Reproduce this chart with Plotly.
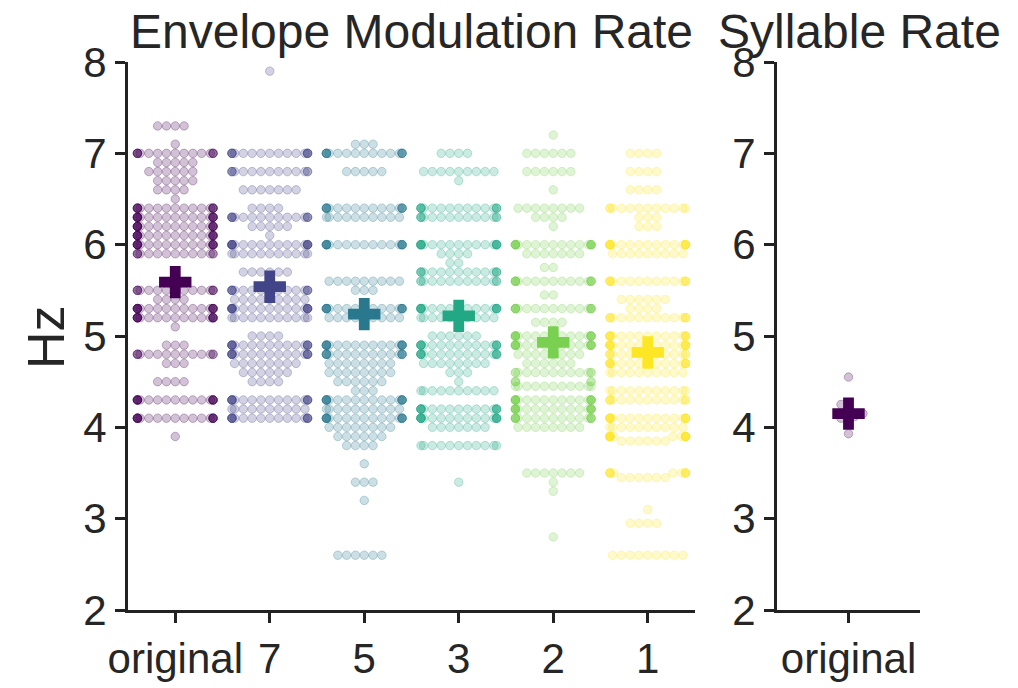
import numpy as np
import plotly.graph_objects as go

# ---------------- data ----------------
categories = ["original", "7", "5", "3", "2", "1"]
colors = ["#440154", "#414487", "#2a788e", "#22a884", "#7ad151", "#fde725"]

orig_levels = [7.3, 7.1, 7.0, 6.9, 6.8, 6.7, 6.6, 6.5, 6.4, 6.3, 6.2, 6.1, 6.0, 5.9,
               5.5, 5.4, 5.3, 5.2, 5.1, 4.9, 4.8, 4.7, 4.5, 4.3, 4.1, 3.9]
orig_counts = [4, 1, 16, 5, 6, 5, 4, 1, 18, 20, 20, 20, 20, 14,
               15, 4, 20, 20, 1, 3, 14, 3, 4, 20, 20, 1]

r7_levels = [7.9, 7.0, 6.8, 6.6, 6.4, 6.3, 6.2, 6.1, 6.0, 5.9, 5.7, 5.5, 5.4, 5.3, 5.2,
             5.0, 4.9, 4.8, 4.7, 4.6, 4.5, 4.3, 4.2, 4.1]
r7_counts = [1, 17, 14, 7, 4, 16, 5, 1, 20, 11, 6, 16, 9, 20, 11,
             4, 18, 18, 8, 6, 4, 18, 10, 18]

r5_levels = [7.1, 7.0, 6.8, 6.4, 6.3, 6.0, 5.6, 5.5, 5.3, 5.2, 4.9, 4.8, 4.7, 4.6, 4.5,
             4.4, 4.3, 4.2, 4.1, 4.0, 3.9, 3.8, 3.6, 3.4, 3.2, 2.6]
r5_counts = [3, 18, 5, 18, 10, 20, 9, 3, 20, 9, 20, 18, 8, 8, 6,
             3, 20, 10, 20, 8, 6, 4, 1, 3, 1, 6]

r3_levels = [7.0, 6.8, 6.7, 6.4, 6.3, 6.0, 5.9, 5.8, 5.7, 5.6, 5.3, 5.2, 5.0, 4.9, 4.8,
             4.7, 4.6, 4.5, 4.4, 4.2, 4.1, 4.0, 3.8, 3.4]
r3_counts = [4, 9, 1, 16, 14, 20, 4, 2, 15, 13, 20, 10, 6, 18, 18,
             8, 3, 1, 10, 18, 20, 7, 11, 1]

r2_levels = [7.2, 7.0, 6.8, 6.6, 6.4, 6.3, 6.2, 6.0, 5.9, 5.75, 5.6, 5.45, 5.3, 5.15, 5.0,
             4.9, 4.8, 4.7, 4.6, 4.5, 4.45, 4.3, 4.2, 4.1, 4.0, 3.5, 3.4, 3.3, 2.8]
r2_counts = [1, 6, 6, 1, 8, 4, 1, 20, 7, 2, 18, 2, 18, 4, 20,
             20, 8, 6, 13, 5, 11, 20, 20, 18, 8, 7, 1, 1, 1]

r1_levels = [7.0, 6.8, 6.6, 6.4, 6.3, 6.2, 6.0, 5.9, 5.6, 5.4, 5.3, 5.2, 5.0, 4.9, 4.8,
             4.7, 4.6, 4.4, 4.3, 4.1, 4.0, 3.9, 3.85, 3.5, 3.45, 3.1, 2.95, 2.6]
r1_counts = [4, 4, 4, 12, 3, 3, 20, 9, 16, 6, 4, 15, 18, 20, 14,
             18, 10, 11, 14, 20, 10, 18, 6, 11, 6, 1, 4, 9]

env_means = [5.59, 5.54, 5.24, 5.22, 4.93, 4.82]

syl_values = [3.93, 4.05, 4.1, 4.12, 4.15, 4.2, 4.25, 4.55]
syl_mean = 4.15

all_levels = [orig_levels, r7_levels, r5_levels, r3_levels, r2_levels, r1_levels]
all_counts = [orig_counts, r7_counts, r5_counts, r3_counts, r2_counts, r1_counts]

# ---------------- layout geometry ----------------
W, H = 1018, 688
main_x0, main_x1 = 128, 695
side_x0, side_x1 = 777, 920
y_top, y_bot = 62, 610
px_per_hz = (y_bot - y_top) / 6.0
main_px_per_cat = (main_x1 - main_x0) / 6.0
side_px_per_cat = (side_x1 - side_x0) / 1.0

D = 8.8  # point spacing in px


def beeswarm(values, px_per_cat, width=0.8):
    vals = np.asarray(values, dtype=float)
    order = np.argsort(vals, kind="stable")
    ys = vals[order] * px_per_hz
    px, py = [], []
    xs = np.zeros(len(ys))
    for i, y in enumerate(ys):
        neigh = [(a, b) for a, b in zip(px, py) if abs(b - y) < D]
        cands = [0.0]
        for a, b in neigh:
            dx = np.sqrt(max(D * D - (b - y) ** 2, 0.0))
            cands += [a - dx, a + dx]
        cands = sorted(cands, key=lambda c: abs(c))
        chosen = cands[-1]
        for c in cands:
            if all((c - a) ** 2 + (y - b) ** 2 >= D * D - 1e-6 for a, b in neigh):
                chosen = c
                break
        xs[i] = chosen
        px.append(chosen)
        py.append(y)
    half = width / 2 * px_per_cat
    xs = np.clip(xs, -half, half)
    out = np.zeros(len(vals))
    out[order] = xs / px_per_cat
    return out


def rgba(hexc, a):
    hexc = hexc.lstrip("#")
    r, g, b = int(hexc[0:2], 16), int(hexc[2:4], 16), int(hexc[4:6], 16)
    return f"rgba({r},{g},{b},{a})"


fig = go.Figure()

for i, (lv, ct) in enumerate(zip(all_levels, all_counts)):
    vals = np.repeat(np.array(lv), np.array(ct))
    offs = beeswarm(vals, main_px_per_cat)
    fig.add_trace(go.Scatter(
        x=i + offs, y=vals, mode="markers", xaxis="x", yaxis="y",
        marker=dict(size=8.5, color=rgba(colors[i], 0.24),
                    line=dict(color=rgba(colors[i], 0.28), width=1)),
        showlegend=False, hoverinfo="skip"))

fig.add_trace(go.Scatter(
    x=list(range(len(categories))), y=env_means, mode="markers", xaxis="x", yaxis="y",
    marker=dict(symbol="cross", size=27, color=colors, line=dict(width=0)),
    showlegend=False))

syl_offs = beeswarm(syl_values, side_px_per_cat)
fig.add_trace(go.Scatter(
    x=syl_offs, y=syl_values, mode="markers", xaxis="x2", yaxis="y2",
    marker=dict(size=8.5, color=rgba(colors[0], 0.24),
                line=dict(color=rgba(colors[0], 0.28), width=1)),
    showlegend=False))
fig.add_trace(go.Scatter(
    x=[0], y=[syl_mean], mode="markers", xaxis="x2", yaxis="y2",
    marker=dict(symbol="cross", size=27, color=colors[0], line=dict(width=0)),
    showlegend=False))

font_fam = "Liberation Sans, Arial, sans-serif"
txt = "#262626"
ax_common = dict(showline=True, linewidth=3, linecolor="#222222", ticks="outside",
                 ticklen=10, tickwidth=3, tickcolor="#222222", showgrid=False,
                 zeroline=False, automargin=False,
                 tickfont=dict(family=font_fam, size=42, color=txt))

ydom = [(H - y_bot) / H, (H - y_top) / H]
fig.update_layout(
    width=W, height=H, margin=dict(l=0, r=0, t=0, b=0, autoexpand=False),
    paper_bgcolor="white", plot_bgcolor="white",
    xaxis=dict(domain=[main_x0 / W, main_x1 / W], range=[-0.5, 5.5],
               tickvals=list(range(6)), ticktext=categories, **ax_common),
    yaxis=dict(domain=ydom, range=[2, 8], tickvals=[2, 3, 4, 5, 6, 7, 8], **ax_common),
    xaxis2=dict(domain=[side_x0 / W, side_x1 / W], range=[-0.5, 0.5],
                tickvals=[0], ticktext=["original"], anchor="y2", **ax_common),
    yaxis2=dict(domain=ydom, range=[2, 8], tickvals=[2, 3, 4, 5, 6, 7, 8], anchor="x2",
                **ax_common),
    annotations=[
        dict(text="Envelope Modulation Rate", x=(main_x0 + main_x1) / 2 / W, y=(H - 32) / H,
             xref="paper", yref="paper", showarrow=False, xanchor="center", yanchor="middle",
             font=dict(family=font_fam, size=48, color=txt)),
        dict(text="Syllable Rate", x=859 / W, y=(H - 32) / H,
             xref="paper", yref="paper", showarrow=False, xanchor="center", yanchor="middle",
             font=dict(family=font_fam, size=48, color=txt)),
        dict(text="Hz", x=46 / W, y=(H - 337) / H, textangle=-90,
             xref="paper", yref="paper", showarrow=False, xanchor="center", yanchor="middle",
             font=dict(family=font_fam, size=52, color=txt)),
    ],
)

fig.write_html("out.html")
